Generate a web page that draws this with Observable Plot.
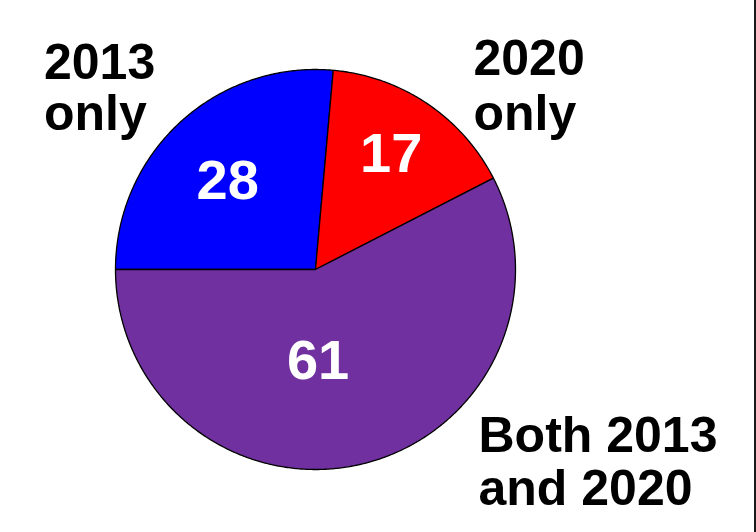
<!DOCTYPE html>
<html>
<head>
<meta charset="utf-8">
<script src="https://cdn.jsdelivr.net/npm/d3@7"></script>
<script src="https://cdn.jsdelivr.net/npm/@observablehq/plot@0.6"></script>
<style>
  html, body { margin: 0; padding: 0; background: #fff; }
  #wrap { position: relative; width: 756px; height: 532px; overflow: hidden; }
  #edge { position: absolute; left: 754px; top: 0; width: 2px; height: 532px; background: #1a1a1a; }
</style>
</head>
<body>
<div id="wrap"><div id="edge"></div></div>
<script>
// Data
const categories = ["2013 only", "2020 only", "Both 2013 and 2020"];
const values = [28, 17, 61];
const colors = ["#0000FF", "#FF0000", "#7030A0"];
const outerLabels = ["2013\nonly", "2020\nonly", "Both 2013\nand 2020"];

const slices = categories.map((c, i) => ({category: c, value: values[i], color: colors[i], label: outerLabels[i]}));

// Angles via d3.pie (clockwise from 12 o'clock), starting at 9 o'clock
const arcs = d3.pie().sort(null).value(d => d.value)
  .startAngle(-Math.PI / 2).endAngle(3 * Math.PI / 2)(slices);

// Outline of each slice in unit-circle coordinates
function slicePath(a) {
  const pts = [{x: 0, y: 0}];
  const n = Math.max(2, Math.ceil((a.endAngle - a.startAngle) / (Math.PI / 360)));
  for (let k = 0; k <= n; k++) {
    const t = a.startAngle + (a.endAngle - a.startAngle) * k / n;
    pts.push({x: Math.sin(t), y: Math.cos(t)});
  }
  pts.push({x: 0, y: 0});
  return pts;
}

const mid = a => (a.startAngle + a.endAngle) / 2;
const labelPos = (a, r) => ({x: r * Math.sin(mid(a)), y: r * Math.cos(mid(a)), value: a.data.value});

const sliceMarks = arcs.map(a => Plot.line(slicePath(a), {
  x: "x", y: "y", fill: a.data.color, stroke: "#000", strokeWidth: 1.3, curve: "linear"
}));

const numAdj = [[0, 7], [3, -7.5], [-28, -35]];
const numberMarks = arcs.map((a, i) => Plot.text([labelPos(a, 0.65)], {
  x: "x", y: "y", text: d => String(d.value),
  fill: "white", fontSize: 56, fontWeight: "bold",
  fontFamily: "Liberation Sans, Arial, sans-serif",
  textAnchor: "middle", dx: numAdj[i][0], dy: numAdj[i][1]
}));

const outerPos = [
  {x: -1.3575, y: 1.136, lh: 1.02},
  {x: 0.79, y: 1.1675, lh: 1.1},
  {x: 0.815, y: -0.7275, lh: 1.05}
];
const outerMarks = slices.map((s, i) => Plot.text([s], {
  x: () => outerPos[i].x, y: () => outerPos[i].y, text: "label",
  fill: "black", fontSize: 50, fontWeight: "bold",
  fontFamily: "Liberation Sans, Arial, sans-serif",
  textAnchor: "start", lineAnchor: "top", lineHeight: outerPos[i].lh
}));

const chart = Plot.plot({
  width: 756,
  height: 532,
  marginLeft: 115,
  marginRight: 241,
  marginTop: 69,
  marginBottom: 63,
  x: {domain: [-1, 1], axis: null},
  y: {domain: [-1, 1], axis: null},
  style: {background: "white", overflow: "visible"},
  marks: [...sliceMarks, ...numberMarks, ...outerMarks]
});
document.getElementById("wrap").prepend(chart);
</script>
</body>
</html>
